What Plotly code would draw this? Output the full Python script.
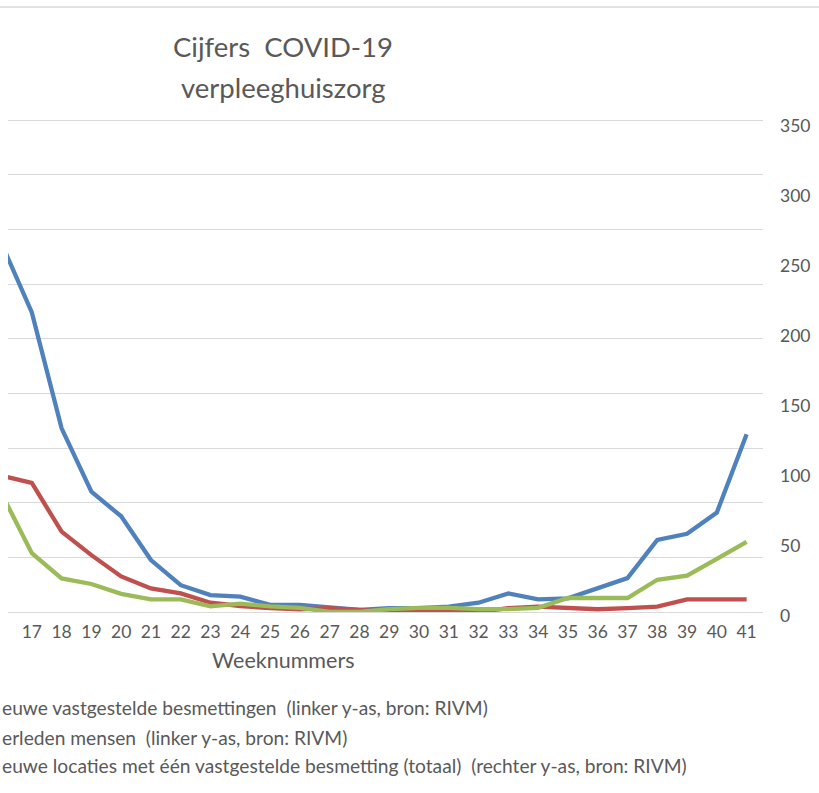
import plotly.graph_objects as go

weeks = list(range(16, 42))
besmettingen = [672, 548, 336, 220, 175, 95, 49, 31, 28, 13, 13, 9, 4, 7, 7, 10, 17, 34, 23, 25, 43, 62, 132, 143, 182, 325]
overleden = [249, 236, 147, 104, 65, 43, 34, 17, 11, 7, 5, 7, 4, 0, 0, 1, 0, 7, 10, 7, 5, 7, 10, 23, 23, 23]
locaties = [84, 42, 24, 20, 13, 9, 9, 4, 6, 4, 3, 0, 0, 2, 3, 3, 2, 2, 3, 10, 10, 10, 23, 26, 38, 50]
right_ticks = [0, 50, 100, 150, 200, 250, 300, 350]

W, H = 819, 793
L, R, T, B = 8, 56, 114, 181
PW, PH = W - L - R, H - T - B
FONT = "Lato"
GREY = "#595959"

# left axis: 0 at y=612, 900 at y=120 (top gridline inside the plot area)
left_max = 900 * PH / 492
# right axis: 0 at plot bottom, 350 at y=122
r_scale = 490 / 350
right_min = -0.01
right_max = right_min + PH / r_scale


def px(x):
    return (x - L) / PW


def py(y):
    return (H - B - y) / PH


fig = go.Figure()
fig.add_trace(go.Scatter(x=weeks, y=besmettingen, mode="lines",
                         line=dict(color="#4F81BD", width=4.3), yaxis="y"))
fig.add_trace(go.Scatter(x=weeks, y=overleden, mode="lines",
                         line=dict(color="#C0504D", width=4.3), yaxis="y"))
fig.add_trace(go.Scatter(x=weeks, y=locaties, mode="lines",
                         line=dict(color="#9BBB59", width=4.3), yaxis="y2"))

fig.update_layout(
    width=W, height=H,
    margin=dict(l=L, r=R, t=T, b=B, autoexpand=False),
    paper_bgcolor="white", plot_bgcolor="white",
    showlegend=False,
    font=dict(family=FONT, color=GREY),
    xaxis=dict(range=[16.2, 41.55], tickmode="linear", tick0=17, dtick=1,
               showgrid=False, zeroline=False, showline=False, ticks="",
               ticklabelstandoff=7,
               tickfont=dict(size=17.5, color=GREY, family=FONT)),
    yaxis=dict(range=[0, left_max], tickmode="linear", tick0=0, dtick=100,
               showgrid=True, gridcolor="#D9D9D9",
               gridwidth=1.3, zeroline=True, zerolinecolor="#D9D9D9",
               zerolinewidth=1.3, showticklabels=False, ticks=""),
    yaxis2=dict(range=[right_min, right_max], overlaying="y", side="right",
                tickmode="array", tickvals=right_ticks,
                ticktext=[str(v) for v in right_ticks],
                showgrid=False, zeroline=False, ticks="",
                ticklabelstandoff=16, ticklabelshift=4,
                tickfont=dict(size=17.5, color=GREY, family=FONT)),
)

ann = [
    dict(text="Cijfers\u00a0 COVID-19", x=px(283), y=py(46), size=27.5),
    dict(text="verpleeghuiszorg", x=px(283), y=py(87), size=27.5),
    dict(text="Weeknummers", x=px(283), y=py(660), size=21.5),
]
for a in ann:
    fig.add_annotation(text=a["text"], x=a["x"], y=a["y"], xref="paper", yref="paper",
                       xanchor="center", yanchor="middle", showarrow=False,
                       font=dict(size=a["size"], color=GREY, family=FONT))

# legend texts as visible in the (cropped) reference
legend_items = [
    ("euwe vastgestelde besmettingen\u00a0 (linker y-as, bron: RIVM)", 707),
    ("erleden mensen\u00a0 (linker y-as, bron: RIVM)", 737),
    ("euwe locaties met één vastgestelde besmetting (totaal)\u00a0 (rechter y-as, bron: RIVM)", 765),
]
for text, yc in legend_items:
    fig.add_annotation(text=text, x=px(0), y=py(yc), xref="paper", yref="paper",
                       xanchor="left", yanchor="middle", showarrow=False,
                       font=dict(size=19.2, color=GREY, family=FONT))

fig.add_shape(type="line", xref="paper", yref="paper", x0=px(0), x1=px(W),
              y0=py(7), y1=py(7), line=dict(color="#D9D9D9", width=1.3))

fig.write_html("out.html", config={"displayModeBar": False},
               post_script="document.body.style.margin='0px';document.body.style.overflow='hidden';")
